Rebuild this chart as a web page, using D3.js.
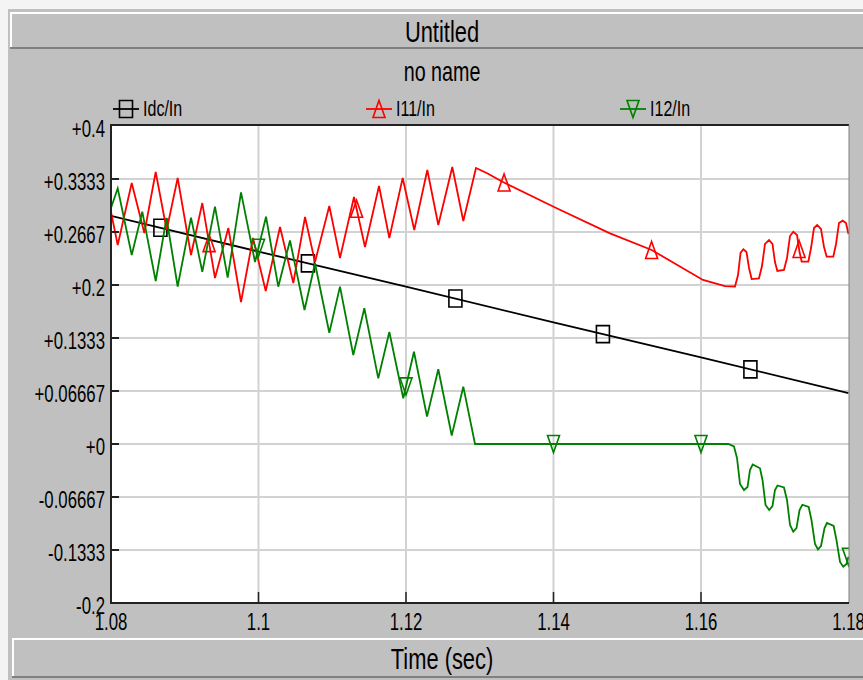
<!DOCTYPE html>
<html>
<head>
<meta charset="utf-8">
<script src="https://cdn.jsdelivr.net/npm/d3@7"></script>
<style>
  html, body { margin: 0; padding: 0; background: #f4f4f4; }
  svg { display: block; }
  text { font-family: "Liberation Sans", Arial, sans-serif; fill: #000; }
</style>
</head>
<body>
<svg id="chart" width="863" height="680"></svg>
<script>
// axis ticks
const xTicks = [1.08, 1.10, 1.12, 1.14, 1.16, 1.18];
const xTickLabels = ["1.08", "1.1", "1.12", "1.14", "1.16", "1.18"];
const yTicks = [0.4, 0.3333, 0.2667, 0.2, 0.1333, 0.06667, 0, -0.06667, -0.1333, -0.2];
const yTickLabels = ["+0.4", "+0.3333", "+0.2667", "+0.2", "+0.1333", "+0.06667", "+0", "-0.06667", "-0.1333", "-0.2"];

const seriesNames = ["Idc/In", "I11/In", "I12/In"];
const seriesColors = ["#000000", "#ff0000", "#008000"];

// Idc/In
const timeIdc = [1.08, 1.10, 1.12, 1.14, 1.16, 1.18];
const idc = [0.287, 0.242, 0.198, 0.153, 0.109, 0.064];

// I11/In
const timeI11 = [1.08, 1.08091, 1.08281, 1.08452, 1.08606, 1.08755, 1.08904, 1.09085, 1.09238, 1.09410,
  1.09591, 1.09763, 1.09925, 1.10098, 1.10292, 1.10472, 1.10631, 1.10766, 1.10960, 1.11105,
  1.11295, 1.11444, 1.11634, 1.11774, 1.11955, 1.12112, 1.12289, 1.12438, 1.12628, 1.12777,
  1.12949, 1.13094, 1.13315, 1.14043, 1.14766, 1.15332, 1.16027, 1.16325, 1.16461,
  1.16502, 1.16536, 1.16574, 1.16617, 1.16651, 1.16687, 1.16786,
  1.16827, 1.16868, 1.16922, 1.16969, 1.17003, 1.17035, 1.17125,
  1.17166, 1.17207, 1.17251, 1.17302, 1.17336, 1.17365, 1.17455,
  1.17492, 1.17532, 1.17576, 1.17627, 1.17668, 1.17704, 1.17794,
  1.17831, 1.17871, 1.17921, 1.17966, 1.18];
const i11 = [0.2918, 0.2503, 0.3283, 0.2654, 0.3421, 0.2692, 0.3346, 0.2377, 0.3031, 0.2088,
  0.2717, 0.1786, 0.2591, 0.1925, 0.2730, 0.2025, 0.2855, 0.2289, 0.2994, 0.2340,
  0.3107, 0.2478, 0.3245, 0.2591, 0.3346, 0.2692, 0.3447, 0.2755, 0.3484, 0.2805,
  0.3472, 0.3409, 0.3296, 0.2965, 0.2650, 0.2440, 0.2063, 0.1987, 0.1981,
  0.2126, 0.2403, 0.2449, 0.2415, 0.2214, 0.2075, 0.2084,
  0.2239, 0.2516, 0.2566, 0.2516, 0.2289, 0.2176, 0.2189,
  0.2340, 0.2616, 0.2670, 0.2629, 0.2415, 0.2293, 0.2293,
  0.2465, 0.2717, 0.2755, 0.2704, 0.2478, 0.2356, 0.2358,
  0.2516, 0.2780, 0.2809, 0.2780, 0.2642];

// I12/In
const timeI12 = [1.08, 1.08091, 1.08281, 1.08424, 1.08606, 1.08753, 1.08904, 1.09085, 1.09238, 1.09410,
  1.09582, 1.09763, 1.09953, 1.10102, 1.10268, 1.10427, 1.10624, 1.10766, 1.10960, 1.11105,
  1.11285, 1.11435, 1.11624, 1.11774, 1.11963, 1.12108, 1.12285, 1.12438, 1.12620, 1.12777,
  1.12936, 1.16370, 1.16447,
  1.16488, 1.16529, 1.16583, 1.16631, 1.16664, 1.16701, 1.16800,
  1.16834, 1.16875, 1.16925, 1.16969, 1.17003, 1.17037, 1.17125,
  1.17166, 1.17207, 1.17251, 1.17295, 1.17336, 1.17374, 1.17460,
  1.17498, 1.17546, 1.17586, 1.17627, 1.17675, 1.17708, 1.17799,
  1.17837, 1.17885, 1.17929, 1.17973, 1.18];
const i12 = [0.2969, 0.3216, 0.2377, 0.2922, 0.2050, 0.2843, 0.1981, 0.2847, 0.2167, 0.2985,
  0.2092, 0.3166, 0.2289, 0.2859, 0.1979, 0.2560, 0.1686, 0.2273, 0.1400, 0.1979,
  0.1119, 0.1707, 0.0826, 0.1409, 0.0575, 0.1161, 0.0346, 0.0940, 0.0107, 0.0721,
  0, 0, -0.0031,
  -0.0176, -0.0503, -0.0579, -0.0541, -0.0327, -0.0258, -0.0306,
  -0.0453, -0.0767, -0.0830, -0.0780, -0.0579, -0.0522, -0.0547,
  -0.0704, -0.1019, -0.1103, -0.1057, -0.0830, -0.0764, -0.0792,
  -0.0956, -0.1258, -0.1325, -0.1283, -0.1057, -0.0994, -0.1031,
  -0.1208, -0.1484, -0.1543, -0.1509, -0.1418];

// marker times
const markIdc = [1.0867, 1.1067, 1.1267, 1.1467, 1.1667];
const markI11 = [1.0933, 1.1133, 1.1333, 1.1533, 1.1733];
const markI12 = [1.10, 1.12, 1.14, 1.16, 1.18];

const svg = d3.select("#chart");
const plot = { left: 111, right: 849, top: 125, bottom: 603 };

const x = d3.scaleLinear().domain([1.08, 1.18]).range([plot.left, 848.5]);
const y = d3.scaleLinear().domain([-0.2, 0.4]).range([plot.bottom, 126]);

// narrow text like the original
function label(g, px, py, txt, size, anchor) {
  return g.append("text")
    .attr("transform", `translate(${px},${py}) scale(0.73,1)`)
    .attr("text-anchor", anchor)
    .style("font-size", size + "px")
    .text(txt);
}

function bevel(g, bx, by, bw, bh) {
  g.append("rect").attr("x", bx).attr("y", by).attr("width", bw).attr("height", bh).attr("fill", "#c0c0c0");
  g.append("line").attr("x1", bx).attr("x2", bx + bw).attr("y1", by + 1).attr("y2", by + 1).attr("stroke", "#ffffff").attr("stroke-width", 2);
  g.append("line").attr("x1", bx + 1).attr("x2", bx + 1).attr("y1", by).attr("y2", by + bh).attr("stroke", "#ffffff").attr("stroke-width", 2);
  g.append("line").attr("x1", bx).attr("x2", bx + bw).attr("y1", by + bh - 1).attr("y2", by + bh - 1).attr("stroke", "#808080").attr("stroke-width", 2);
}

// panel background
svg.append("rect").attr("x", 8).attr("y", 9).attr("width", 900).attr("height", 700).attr("fill", "#c0c0c0");
bevel(svg, 10, 12, 900, 37);
bevel(svg, 12, 638, 900, 40);

label(svg, 442, 42, "Untitled", 30, "middle");
label(svg, 442, 81, "no name", 27, "middle");
label(svg, 442, 669, "Time (sec)", 30, "middle");

// plot area
svg.append("rect")
  .attr("x", plot.left).attr("y", plot.top)
  .attr("width", plot.right - plot.left).attr("height", plot.bottom - plot.top)
  .attr("fill", "#ffffff");

// grid
svg.append("g").selectAll("line")
  .data(yTicks.slice(1, -1))
  .join("line")
  .attr("x1", plot.left).attr("x2", plot.right)
  .attr("y1", d => y(d)).attr("y2", d => y(d))
  .attr("stroke", "#d2d2d2").attr("stroke-width", 2);

svg.append("g").selectAll("line")
  .data(xTicks.slice(1, -1))
  .join("line")
  .attr("x1", d => x(d)).attr("x2", d => x(d))
  .attr("y1", plot.top).attr("y2", plot.bottom)
  .attr("stroke", "#d2d2d2").attr("stroke-width", 2);

svg.append("clipPath").attr("id", "clip")
  .append("rect")
  .attr("x", plot.left).attr("y", plot.top)
  .attr("width", plot.right - plot.left).attr("height", plot.bottom - plot.top);

const lineGen = d3.line().x(d => x(d[0])).y(d => y(d[1]));

function valueAt(ts, vs, t) {
  const i = d3.bisectLeft(ts, t);
  if (i <= 0) return vs[0];
  if (i >= ts.length) return vs[vs.length - 1];
  const f = (t - ts[i - 1]) / (ts[i] - ts[i - 1]);
  return vs[i - 1] + f * (vs[i] - vs[i - 1]);
}

function markerPath(kind) {
  if (kind == "square") return "M-6.5,-8.5H6.5V8.5H-6.5Z";
  if (kind == "up") return "M0,-8.5L6,8.5L-6,8.5Z";
  return "M0,8.5L6,-8.5L-6,-8.5Z";
}

const series = [
  { t: timeIdc, v: idc, marks: markIdc, kind: "square" },
  { t: timeI11, v: i11, marks: markI11, kind: "up" },
  { t: timeI12, v: i12, marks: markI12, kind: "down" }
];

const traces = svg.append("g").attr("clip-path", "url(#clip)");

series.forEach((s, k) => {
  traces.append("path")
    .datum(d3.zip(s.t, s.v))
    .attr("d", lineGen)
    .attr("fill", "none")
    .attr("stroke", seriesColors[k])
    .attr("stroke-width", 1.8)
    .attr("stroke-linejoin", "miter");

  traces.selectAll(null)
    .data(s.marks)
    .join("path")
    .attr("transform", d => `translate(${x(d)},${y(valueAt(s.t, s.v, d))})`)
    .attr("d", markerPath(s.kind))
    .attr("fill", "none")
    .attr("stroke", seriesColors[k])
    .attr("stroke-width", 1.6);
});

// frame
svg.append("line").attr("x1", plot.left - 1).attr("x2", plot.right).attr("y1", plot.top).attr("y2", plot.top).attr("stroke", "#222").attr("stroke-width", 2);
svg.append("line").attr("x1", plot.right).attr("x2", plot.right).attr("y1", plot.top).attr("y2", plot.bottom).attr("stroke", "#808080").attr("stroke-width", 1);
svg.append("line").attr("x1", plot.left).attr("x2", plot.left).attr("y1", plot.top).attr("y2", plot.bottom + 1).attr("stroke", "#222").attr("stroke-width", 2);
svg.append("line").attr("x1", plot.left - 1).attr("x2", plot.right).attr("y1", plot.bottom).attr("y2", plot.bottom).attr("stroke", "#222").attr("stroke-width", 2);

// ticks
svg.append("g").selectAll("line")
  .data(yTicks.slice(1, -1))
  .join("line")
  .attr("x1", plot.left).attr("x2", plot.left + 8)
  .attr("y1", d => y(d)).attr("y2", d => y(d))
  .attr("stroke", "#222").attr("stroke-width", 2);

svg.append("g").selectAll("line")
  .data(xTicks.slice(1, -1))
  .join("line")
  .attr("x1", d => x(d)).attr("x2", d => x(d))
  .attr("y1", plot.bottom).attr("y2", plot.bottom - 11)
  .attr("stroke", "#222").attr("stroke-width", 1.5);

// tick labels
yTicks.forEach((d, i) => label(svg, 105, y(d) + 11, yTickLabels[i], 23, "end"));
xTicks.forEach((d, i) => label(svg, x(d), 630, xTickLabels[i], 23, "middle"));

// legend
const legendX = [113, 366, 620];
series.forEach((s, k) => {
  const lx = legendX[k];
  svg.append("line")
    .attr("x1", lx).attr("x2", lx + 26).attr("y1", 109).attr("y2", 109)
    .attr("stroke", seriesColors[k]).attr("stroke-width", 1.8);
  svg.append("path")
    .attr("transform", `translate(${lx + 13},109)`)
    .attr("d", markerPath(s.kind))
    .attr("fill", "none")
    .attr("stroke", seriesColors[k])
    .attr("stroke-width", 1.6);
  label(svg, lx + 30, 116, seriesNames[k], 22, "start");
});
</script>
</body>
</html>
